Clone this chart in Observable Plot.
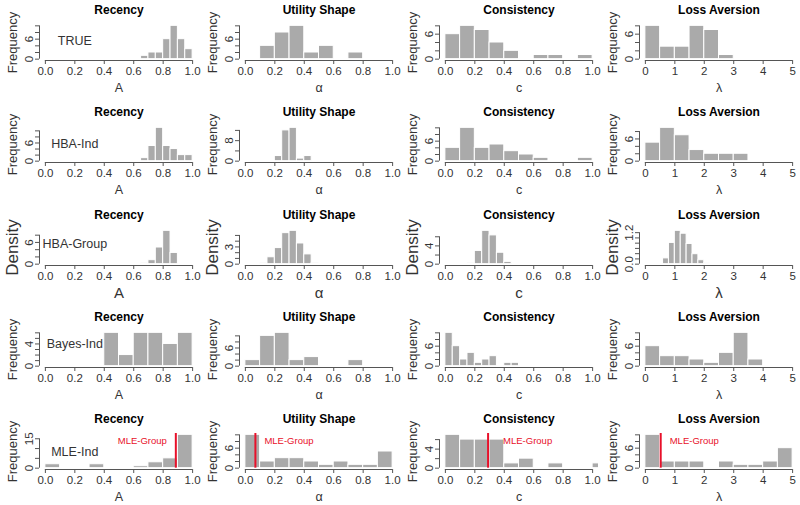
<!DOCTYPE html>
<html><head><meta charset="utf-8">
<script src="https://cdn.jsdelivr.net/npm/d3@7"></script>
<script src="https://cdn.jsdelivr.net/npm/@observablehq/plot@0.6"></script>
<style>
body{margin:0;background:#fff;}
#chart{position:relative;width:800px;height:505px;overflow:hidden;background:#fff;}
#chart svg{position:absolute;}
</style></head><body><div id="chart"></div>
<script>
// ---- labels ----
const methods = ["TRUE", "HBA-Ind", "HBA-Group", "Bayes-Ind", "MLE-Ind"];
const yTitles = ["Frequency", "Frequency", "Density", "Frequency", "Frequency"];
const params = ["Recency", "Utility Shape", "Consistency", "Loss Aversion"];
const xTitles = ["A", "α", "c", "λ"];
const xTicksUnit = [0, 0.2, 0.4, 0.6, 0.8, 1.0];
const xTickLabelsUnit = ["0.0", "0.2", "0.4", "0.6", "0.8", "1.0"];
const xTicksLoss = [0, 1, 2, 3, 4, 5];
const xTickLabelsLoss = ["0", "1", "2", "3", "4", "5"];
const mleLabel = "MLE-Group";
const mleGroup = [0.886, 0.068, 0.29, 0.52];

// ---- TRUE ----
const trueRecEdges = [0.65, 0.70, 0.75, 0.80, 0.85, 0.90, 0.95, 1.00];
const trueRecCounts = [1, 2, 2, 6, 10, 6, 3];
const trueRecYTicks = [0, 2, 4, 6, 8, 10];
const trueRecYLabels = ["0", "6"];
const trueUtilEdges = [0.1, 0.2, 0.3, 0.4, 0.5, 0.6, 0.7, 0.8];
const trueUtilCounts = [4, 8, 10, 2, 4, 0, 2];
const trueUtilYTicks = [0, 2, 4, 6, 8, 10];
const trueUtilYLabels = ["0", "6"];
const trueConsEdges = [0, 0.1, 0.2, 0.3, 0.4, 0.5, 0.6, 0.7, 0.8, 0.9, 1.0];
const trueConsCounts = [6, 8, 7, 4, 2, 0, 1, 1, 0, 1];
const trueConsYTicks = [0, 2, 4, 6, 8];
const trueConsYLabels = ["0", "6"];
const trueLossEdges = [0, 0.5, 1, 1.5, 2, 2.5, 3];
const trueLossCounts = [8, 3, 3, 8, 7, 1];
const trueLossYTicks = [0, 2, 4, 6, 8];
const trueLossYLabels = ["0", "6"];

// ---- HBA-Ind ----
const hbaRecEdges = [0.65, 0.70, 0.75, 0.80, 0.85, 0.90, 0.95, 1.00];
const hbaRecCounts = [1, 5, 11, 5, 4, 2, 2];
const hbaRecYTicks = [0, 2, 4, 6, 8, 10];
const hbaRecYLabels = ["0", "6"];
const hbaUtilEdges = [0.20, 0.25, 0.30, 0.35, 0.40, 0.45];
const hbaUtilCounts = [2, 12, 13, 1, 2];
const hbaUtilYTicks = [0, 4, 8, 12];
const hbaUtilYLabels = ["0", "8"];
const hbaConsEdges = [0, 0.1, 0.2, 0.3, 0.4, 0.5, 0.6, 0.7, 0.8, 0.9, 1.0];
const hbaConsCounts = [4, 10, 4, 5, 3, 2, 1, 0, 0, 1];
const hbaConsYTicks = [0, 2, 4, 6, 8, 10];
const hbaConsYLabels = ["0", "6"];
const hbaLossEdges = [0, 0.5, 1, 1.5, 2, 2.5, 3, 3.5];
const hbaLossCounts = [5, 9, 7, 3, 2, 2, 2];
const hbaLossYTicks = [0, 2, 4, 6, 8];
const hbaLossYLabels = ["0", "6"];

// ---- HBA-Group (density) ----
const grpRecEdges = [0.65, 0.70, 0.75, 0.80, 0.85, 0.90];
const grpRecDensity = [0.25, 1.1, 4.6, 9.2, 3.1];
const grpRecYTicks = [0, 2, 4, 6, 8];
const grpRecYLabels = ["0", "6"];
const grpUtilEdges = [0.10, 0.15, 0.20, 0.25, 0.30, 0.35, 0.40, 0.45, 0.50];
const grpUtilDensity = [0.15, 1.2, 2.8, 5.4, 5.8, 3.6, 1.7, 0.15];
const grpUtilYTicks = [0, 1, 2, 3, 4, 5];
const grpUtilYLabels = ["0", "3"];
const grpConsEdges = [0.15, 0.20, 0.25, 0.30, 0.35, 0.40, 0.45];
const grpConsDensity = [0.2, 2.9, 7.3, 6.3, 2.5, 0.5];
const grpConsYTicks = [0, 2, 4, 6];
const grpConsYLabels = ["0", "4"];
const grpLossEdges = [0.6, 0.8, 1.0, 1.2, 1.4, 1.6, 1.8, 2.0, 2.2];
const grpLossDensity = [0.22, 0.81, 1.27, 1.16, 0.77, 0.38, 0.15, 0.04];
const grpLossYTicks = [0, 0.2, 0.4, 0.6, 0.8, 1.0, 1.2];
const grpLossYLabels = ["0.0", "1.2"];

// ---- Bayes-Ind ----
const bayRecEdges = [0.4, 0.5, 0.6, 0.7, 0.8, 0.9, 1.0];
const bayRecCounts = [6, 2, 6, 6, 4, 6];
const bayRecYTicks = [0, 1, 2, 3, 4, 5, 6];
const bayRecYLabels = ["0", "4"];
const bayUtilEdges = [0, 0.1, 0.2, 0.3, 0.4, 0.5, 0.6, 0.7, 0.8];
const bayUtilCounts = [2, 10, 11, 2, 3, 0, 0, 2];
const bayUtilYTicks = [0, 2, 4, 6, 8, 10];
const bayUtilYLabels = ["0", "6"];
const bayConsEdges = [0, 0.05, 0.10, 0.15, 0.20, 0.25, 0.30, 0.35, 0.40, 0.45, 0.50];
const bayConsCounts = [10, 6, 2, 4, 1, 2, 3, 0, 1, 1];
const bayConsYTicks = [0, 2, 4, 6, 8, 10];
const bayConsYLabels = ["0", "6"];
const bayLossEdges = [0, 0.5, 1, 1.5, 2, 2.5, 3, 3.5, 4];
const bayLossCounts = [6, 3, 3, 2, 1, 4, 10, 2];
const bayLossYTicks = [0, 2, 4, 6, 8, 10];
const bayLossYLabels = ["0", "6"];

// ---- MLE-Ind ----
const mleRecEdges = [0, 0.1, 0.2, 0.3, 0.4, 0.5, 0.6, 0.7, 0.8, 0.9, 1.0];
const mleRecCounts = [2, 0, 0, 2, 0, 0, 1, 3, 5, 17];
const mleRecYTicks = [0, 5, 10, 15];
const mleRecYLabels = ["0", "15"];
const mleUtilEdges = [0, 0.1, 0.2, 0.3, 0.4, 0.5, 0.6, 0.7, 0.8, 0.9, 1.0];
const mleUtilCounts = [10, 2, 3, 3, 2, 1, 2, 1, 1, 5];
const mleUtilYTicks = [0, 2, 4, 6, 8, 10];
const mleUtilYLabels = ["0", "6"];
const mleConsEdges = [0, 0.1, 0.2, 0.3, 0.4, 0.5, 0.6, 0.7, 0.8, 0.9, 1.0, 1.1];
const mleConsCounts = [7, 6, 6, 6, 1, 2, 0, 1, 0, 0, 1];
const mleConsYTicks = [0, 2, 4, 6];
const mleConsYLabels = ["0", "4"];
const mleLossEdges = [0, 0.5, 1, 1.5, 2, 2.5, 3, 3.5, 4, 4.5, 5];
const mleLossCounts = [10, 2, 2, 2, 0, 2, 1, 1, 2, 6];
const mleLossYTicks = [0, 2, 4, 6, 8, 10];
const mleLossYLabels = ["0", "6"];

// ---- table built from the arrays ----
const grid = [
  [[trueRecEdges, trueRecCounts, trueRecYTicks, trueRecYLabels],
   [trueUtilEdges, trueUtilCounts, trueUtilYTicks, trueUtilYLabels],
   [trueConsEdges, trueConsCounts, trueConsYTicks, trueConsYLabels],
   [trueLossEdges, trueLossCounts, trueLossYTicks, trueLossYLabels]],
  [[hbaRecEdges, hbaRecCounts, hbaRecYTicks, hbaRecYLabels],
   [hbaUtilEdges, hbaUtilCounts, hbaUtilYTicks, hbaUtilYLabels],
   [hbaConsEdges, hbaConsCounts, hbaConsYTicks, hbaConsYLabels],
   [hbaLossEdges, hbaLossCounts, hbaLossYTicks, hbaLossYLabels]],
  [[grpRecEdges, grpRecDensity, grpRecYTicks, grpRecYLabels],
   [grpUtilEdges, grpUtilDensity, grpUtilYTicks, grpUtilYLabels],
   [grpConsEdges, grpConsDensity, grpConsYTicks, grpConsYLabels],
   [grpLossEdges, grpLossDensity, grpLossYTicks, grpLossYLabels]],
  [[bayRecEdges, bayRecCounts, bayRecYTicks, bayRecYLabels],
   [bayUtilEdges, bayUtilCounts, bayUtilYTicks, bayUtilYLabels],
   [bayConsEdges, bayConsCounts, bayConsYTicks, bayConsYLabels],
   [bayLossEdges, bayLossCounts, bayLossYTicks, bayLossYLabels]],
  [[mleRecEdges, mleRecCounts, mleRecYTicks, mleRecYLabels],
   [mleUtilEdges, mleUtilCounts, mleUtilYTicks, mleUtilYLabels],
   [mleConsEdges, mleConsCounts, mleConsYTicks, mleConsYLabels],
   [mleLossEdges, mleLossCounts, mleLossYTicks, mleLossYLabels]]
];

// ---- layout / style ----
const rowTops = [0, 102, 205, 307, 409];
const rowLabelDy = [16, 17, 14, 12, 18];
const AX = "#555";
const TX = "#333";
const BAR = "#aaaaaa";
const RED = "#e8102a";
const FONT = "'Liberation Sans', Arial, sans-serif";
const MID = {textAnchor: "middle", lineAnchor: "middle"};

const chart = document.getElementById("chart");

function panel(r, c) {
  const [edges, vals, yTicks, yLabels] = grid[r][c];
  const isLoss = c === 3;
  const xr = isLoss ? [0, 5] : [0, 1];
  const pad = 0.04 * (xr[1] - xr[0]);
  const m = d3.max(vals);
  const bins = vals.map((v, i) => ({x1: edges[i], x2: edges[i + 1], v})).filter(d => d.v > 0);
  const xt = isLoss ? xTicksLoss : xTicksUnit;
  const xtl = isLoss ? xTickLabelsLoss : xTickLabelsUnit;
  const big = r === 2;
  const marks = [
    Plot.rectY(bins, {x1: "x1", x2: "x2", y1: 0, y2: "v", fill: BAR, stroke: "#fff", strokeWidth: 1, clip: true}),
    Plot.ruleY([-0.04 * m], {x1: xt[0], x2: xt[xt.length - 1], stroke: AX}),
    Plot.axisX(xt, {tickSize: 4, tickPadding: 2, tickFormat: d => xtl[xt.indexOf(d)], fontSize: 11.5, stroke: AX, fill: TX}),
    Plot.ruleX([xr[0] - pad], {y1: 0, y2: yTicks[yTicks.length - 1], stroke: AX}),
    Plot.axisY(yTicks, {tickSize: 4, stroke: AX, fill: "none"}),
    Plot.text(yLabels, {y: d => +d, text: d => d, frameAnchor: "left", dx: -10, rotate: -90, fontSize: 11.5, fill: TX, ...MID}),
    Plot.text([params[c]], {frameAnchor: "top", dy: -14, fontWeight: "bold", fontSize: 12, fill: "#000", ...MID}),
    Plot.text([yTitles[r]], {frameAnchor: "left", dx: -27, rotate: -90, fontSize: big ? 17 : 13, fill: TX, ...MID}),
    Plot.text([xTitles[c]], {frameAnchor: "bottom", dy: big ? 28 : 27, fontSize: big ? 15 : 12.5, fill: TX, ...MID})
  ];
  if (c === 0) {
    marks.push(Plot.text([methods[r]], {x: 0.2, frameAnchor: "top", dy: rowLabelDy[r], fontSize: 12.5, fill: TX, ...MID}));
  }
  if (r === 4) {
    marks.push(Plot.ruleX([mleGroup[c]], {y1: 0, y2: 1.04 * m, stroke: RED, strokeWidth: 2}));
    marks.push(Plot.text([mleLabel], {
      x: mleGroup[c], frameAnchor: "top", dy: 7,
      dx: c === 0 ? -9 : (c === 2 ? 15 : 9),
      textAnchor: c === 0 ? "end" : "start", lineAnchor: "middle",
      fill: RED, fontSize: 9.5
    }));
  }
  const svg = Plot.plot({
    width: 200, height: 96,
    marginLeft: 39, marginRight: 2, marginTop: 24, marginBottom: 36,
    x: {domain: [xr[0] - pad, xr[1] + pad], axis: null},
    y: {domain: [-0.04 * m, 1.04 * m], axis: null},
    style: {fontFamily: FONT, fontSize: "11.5px", background: "transparent", overflow: "visible"},
    marks
  });
  svg.style.left = (c * 200) + "px";
  svg.style.top = rowTops[r] + "px";
  chart.appendChild(svg);
}

for (let r = 0; r < 5; r++) for (let c = 0; c < 4; c++) panel(r, c);
</script>
</body></html>
